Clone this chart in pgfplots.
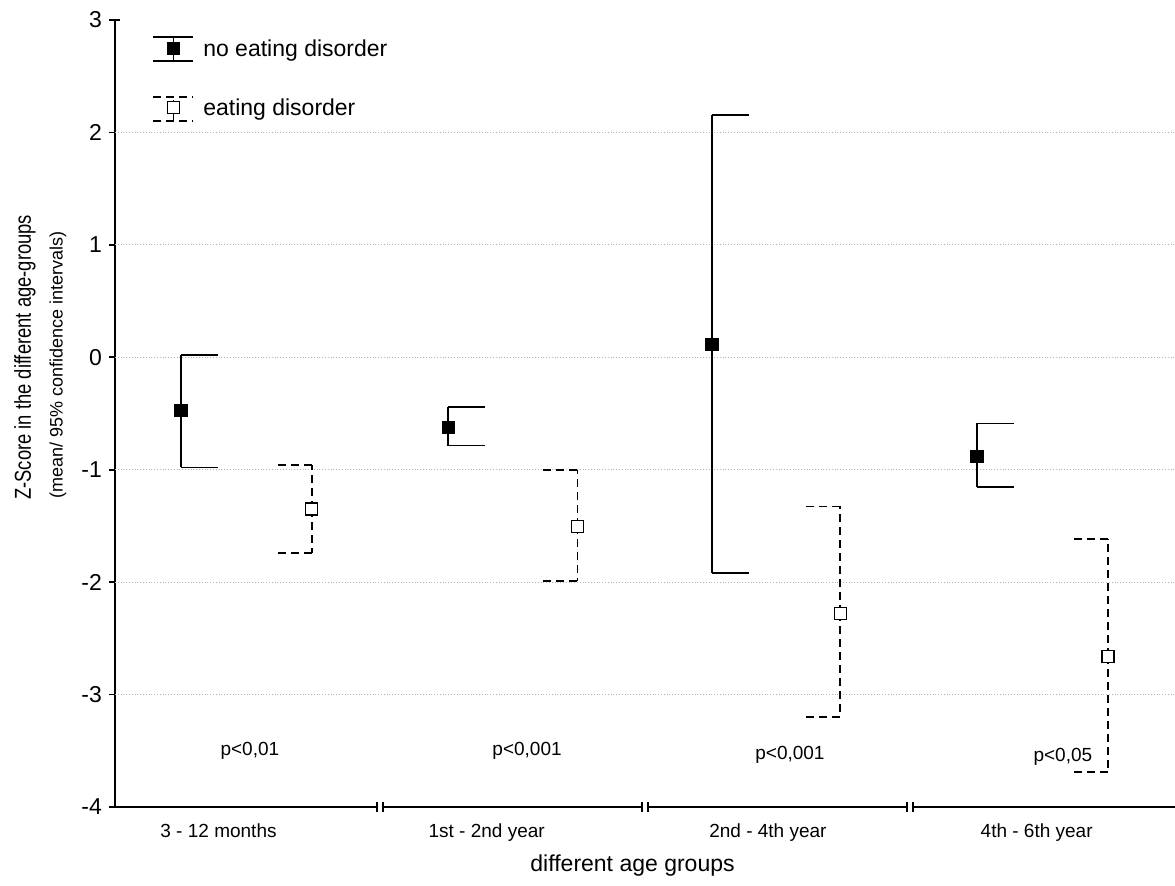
\documentclass[border=0pt]{standalone}
\usepackage{fontspec}
\setmainfont{Liberation Sans}
\usepackage{graphicx}
\usepackage{pgfplots}
\usepackage{pgfplotstable}
\pgfplotsset{compat=1.18}

% one-sided caps for the confidence brackets
\pgfdeclareplotmark{capright}{%
  \pgfpathmoveto{\pgfpointorigin}%
  \pgfpathlineto{\pgfqpoint{18.5pt}{0pt}}%
  \pgfusepathqstroke}
\pgfdeclareplotmark{capleft}{%
  \pgfpathmoveto{\pgfpointorigin}%
  \pgfpathlineto{\pgfqpoint{-18.5pt}{0pt}}%
  \pgfusepathqstroke}

% x  mean  lower  upper  (95% confidence interval)
\pgfplotstableread{
x      mean    lo      hi
0.249  -0.476  -0.980   0.020
1.258  -0.624  -0.785  -0.443
2.253   0.117  -1.920   2.157
3.253  -0.882  -1.155  -0.589
}\noED
\pgfplotstableread{
x      mean    lo      hi
0.743  -1.350  -1.740  -0.960
1.745  -1.505  -1.990  -1.000
2.737  -2.276  -3.200  -1.327
3.747  -2.660  -3.690  -1.617
}\ED

\tikzset{edash/.style={dash pattern=on 4pt off 2.5pt}}

\begin{document}
\begin{tikzpicture}
\path[use as bounding box] (-57.5pt,-39.5pt) rectangle (530pt,403.5pt);
\begin{axis}[
  scale only axis,
  width=530pt, height=393.5pt,
  xmin=0, xmax=4, ymin=-4, ymax=3,
  clip=false,
  axis y line=left,
  axis x line=bottom,
  y axis line style={-, line width=0.9pt},
  x axis line style={draw=none},
  ytick={-4,-3,...,3},
  xtick={0.3906,1.4026,2.464,3.478},
  xticklabels={3 - 12 months, 1st - 2nd year, 2nd - 4th year, 4th - 6th year},
  x tick style={draw=none},
  y tick style={line width=0.9pt, black},
  tick align=outside,
  major tick length=3pt,
  /pgf/number format/assume math mode=true,
  yticklabel style={font=\fontsize{11.5}{13}\selectfont},
  xticklabel style={font=\fontsize{9.5}{11}\selectfont, yshift=-2pt},
  extra y ticks={-3,-2,-1,0,1,2},
  extra y tick labels={},
  extra y tick style={grid=major, major tick length=0pt},
  grid style={densely dotted, black!30, line width=0.6pt},
  legend cell align=left,
  legend style={at={(rel axis cs:0.035,0.981)}, anchor=north west,
    draw=none, fill=none, inner sep=0pt, row sep=16pt,
    font=\fontsize{11.5}{13}\selectfont,
    /tikz/every odd column/.append style={column sep=2.5pt}},
]

% no eating disorder: interval line and mean
\addplot[only marks, mark=square*, mark size=3pt,
  mark options={solid, fill=black, draw=black, line width=0.6pt},
  error bars/.cd, y dir=both, y explicit, error mark=none,
  error bar style={solid, line width=0.9pt, black},
  /pgfplots/legend image code/.code={
    \draw[solid, line width=0.9pt, black] (0pt,-6pt) -- (20pt,-6pt)
      (0pt,6pt) -- (20pt,6pt) (10pt,-6pt) -- (10pt,6pt);
    \draw[solid, line width=0.6pt, fill=black] (7pt,-2.5pt) rectangle (13pt,3.5pt);
  }]
  table[x=x, y=mean,
        y error plus expr=\thisrow{hi}-\thisrow{mean},
        y error minus expr=\thisrow{mean}-\thisrow{lo}] {\noED};
\addlegendentry{no eating disorder}

% eating disorder: interval line and mean
\addplot[only marks, mark=square*, mark size=3pt,
  mark options={solid, fill=white, draw=black, line width=0.6pt},
  error bars/.cd, y dir=both, y explicit, error mark=none,
  error bar style={edash, line width=0.9pt, black},
  /pgfplots/legend image code/.code={
    \draw[edash, line width=0.9pt, black] (0pt,-6pt) -- (20pt,-6pt)
      (0pt,6pt) -- (20pt,6pt) (10pt,-6pt) -- (10pt,6pt);
    \draw[solid, line width=0.6pt, fill=white] (7pt,-2.5pt) rectangle (13pt,3.5pt);
  }]
  table[x=x, y=mean,
        y error plus expr=\thisrow{hi}-\thisrow{mean},
        y error minus expr=\thisrow{mean}-\thisrow{lo}] {\ED};
\addlegendentry{eating disorder}

% interval caps
\addplot[forget plot, only marks, mark=capright, mark options={solid, line width=0.9pt, black}]
  table[x=x, y=hi] {\noED};
\addplot[forget plot, only marks, mark=capright, mark options={solid, line width=0.9pt, black}]
  table[x=x, y=lo] {\noED};
\addplot[forget plot, only marks, mark=capleft, mark options={edash, line width=0.9pt, black}]
  table[x=x, y=hi] {\ED};
\addplot[forget plot, only marks, mark=capleft, mark options={edash, line width=0.9pt, black}]
  table[x=x, y=lo] {\ED};

% broken category axis
\draw[line width=0.9pt]
  (axis cs:0,-4) -- (axis cs:0.9887,-4)
  (axis cs:1.0113,-4) -- (axis cs:1.9887,-4)
  (axis cs:2.0113,-4) -- (axis cs:2.9887,-4)
  (axis cs:3.0113,-4) -- (axis cs:4,-4);
\draw[line width=0.9pt] ([yshift=-2.5pt]axis cs:0.9887,-4) -- ([yshift=2.5pt]axis cs:0.9887,-4);
\draw[line width=0.9pt] ([yshift=-2.5pt]axis cs:1.0113,-4) -- ([yshift=2.5pt]axis cs:1.0113,-4);
\draw[line width=0.9pt] ([yshift=-2.5pt]axis cs:1.9887,-4) -- ([yshift=2.5pt]axis cs:1.9887,-4);
\draw[line width=0.9pt] ([yshift=-2.5pt]axis cs:2.0113,-4) -- ([yshift=2.5pt]axis cs:2.0113,-4);
\draw[line width=0.9pt] ([yshift=-2.5pt]axis cs:2.9887,-4) -- ([yshift=2.5pt]axis cs:2.9887,-4);
\draw[line width=0.9pt] ([yshift=-2.5pt]axis cs:3.0113,-4) -- ([yshift=2.5pt]axis cs:3.0113,-4);
% short tick at the top of the value axis
\draw[line width=0.9pt] (axis cs:0,3) -- ([xshift=2.5pt]axis cs:0,3);

% significance levels
\node[font=\fontsize{9.5}{11}\selectfont] at (axis cs:0.509,-3.501) {p<0,01};
\node[font=\fontsize{9.5}{11}\selectfont] at (axis cs:1.555,-3.501) {p<0,001};
\node[font=\fontsize{9.5}{11}\selectfont] at (axis cs:2.547,-3.537) {p<0,001};
\node[font=\fontsize{9.5}{11}\selectfont] at (axis cs:3.577,-3.554) {p<0,05};

% axis titles
\node[font=\fontsize{11.5}{13}\selectfont] at ([yshift=-29.5pt]axis cs:1.953,-4) {different age groups};
\node[rotate=90] at ([xshift=-45pt]axis cs:0,0)
  {\scalebox{0.8}[1]{\fontsize{11.5}{13}\selectfont Z-Score in the different age-groups}};
\node[rotate=90, font=\fontsize{9}{10}\selectfont] at ([xshift=-28.5pt]axis cs:0,-0.067)
  {(mean/ 95\% confidence intervals)};
\end{axis}
\end{tikzpicture}
\end{document}
